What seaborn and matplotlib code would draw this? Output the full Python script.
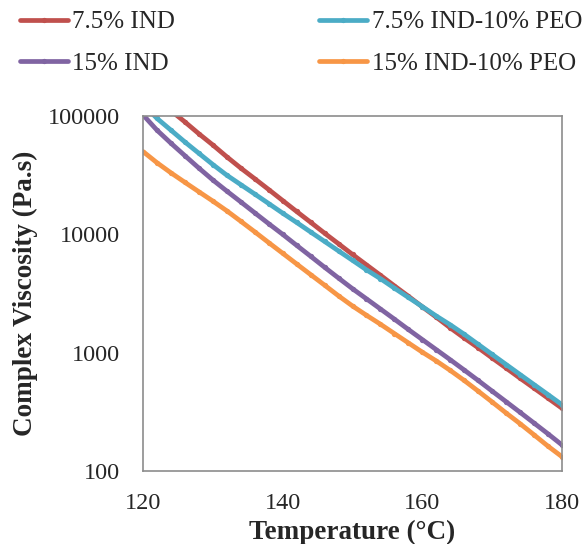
import numpy as np
import pandas as pd
import matplotlib
matplotlib.use("Agg")
import matplotlib.pyplot as plt
import matplotlib.ticker as mticker
import seaborn as sns

# Temperature sweep (°C)
temperature = [120, 122, 124, 126, 128, 130, 132, 134, 136, 138, 140,
               142, 144, 146, 148, 150, 152, 154, 156, 158, 160,
               162, 164, 166, 168, 170, 172, 174, 176, 178, 180]

# Complex viscosity (Pa.s) for each formulation
ind_7_5 = [174000, 138000, 111000, 89100, 70800, 56900, 45200, 36300, 29500, 23900, 19300,
           15600, 12650, 10230, 8320, 6760, 5520, 4510, 3670, 3000, 2440,
           1995, 1620, 1330, 1100, 902, 741, 608, 501, 412, 339]
ind_7_5_peo = [125900, 95500, 75900, 60300, 48400, 38900, 31600, 26300, 21900, 18200, 15100,
               12600, 10470, 8710, 7240, 6030, 5010, 4220, 3510, 2930, 2450,
               2040, 1720, 1430, 1175, 966, 794, 653, 537, 442, 363]
ind_15 = [102300, 75900, 58900, 46200, 36300, 28800, 23200, 18800, 15200, 12300, 10000,
          8070, 6530, 5270, 4270, 3470, 2850, 2340, 1920, 1570, 1290,
          1060, 871, 713, 582, 473, 385, 313, 254, 206, 166]
ind_15_peo = [50100, 40300, 33100, 27500, 22900, 19100, 15800, 12900, 10500, 8510, 6920,
              5620, 4570, 3720, 3020, 2480, 2070, 1740, 1450, 1210, 1010,
              851, 708, 582, 473, 383, 309, 251, 202, 162, 132]

series_names = ["7.5% IND", "7.5% IND-10% PEO", "15% IND", "15% IND-10% PEO"]
series_values = [ind_7_5, ind_7_5_peo, ind_15, ind_15_peo]
colors = ["#C0504D", "#4BACC6", "#8064A2", "#F79646"]

frames = []
for name, vals in zip(series_names, series_values):
    frames.append(pd.DataFrame({"Temperature": temperature,
                                "Viscosity": vals,
                                "Sample": name}))
df = pd.concat(frames, ignore_index=True)

sns.set_style("white")
plt.rcParams["font.family"] = ["Liberation Serif", "DejaVu Serif"]

fig = plt.figure(figsize=(5.85, 5.44), dpi=100)
ax = fig.add_axes([143 / 585, 1 - 471 / 544, (562 - 143) / 585, (471 - 116) / 544])

line_w = 3.4
sns.lineplot(data=df, x="Temperature", y="Viscosity", hue="Sample",
             hue_order=series_names, palette=colors, marker="o",
             markersize=3.8, markeredgewidth=0, linewidth=line_w,
             ax=ax, legend=False)

ax.set_yscale("log")
ax.set_xlim(120, 180)
ax.set_ylim(100, 100000)

ax.xaxis.set_major_locator(mticker.MultipleLocator(20))
ax.xaxis.set_minor_locator(mticker.MultipleLocator(4))
ax.yaxis.set_major_locator(mticker.LogLocator(base=10))
ax.yaxis.set_minor_locator(mticker.LogLocator(base=10, subs=np.arange(2, 10)))
ax.yaxis.set_major_formatter(mticker.FuncFormatter(lambda v, p: f"{int(round(v))}"))
ax.yaxis.set_minor_formatter(mticker.NullFormatter())

spine_color = "#8C8C8C"
for s in ax.spines.values():
    s.set_color(spine_color)
    s.set_linewidth(1.2)

ax.tick_params(which="both", direction="in", color=spine_color, width=1.0)
ax.tick_params(which="major", length=5.5, labelsize=17.5, pad=16)
ax.tick_params(which="minor", length=3.7)
ax.tick_params(axis="y", which="major", pad=16.5)

ax.set_xlabel("Temperature (\u00b0C)", fontsize=19.5, fontweight="bold", labelpad=4)
ax.set_ylabel("Complex Viscosity (Pa.s)", fontsize=19.5, fontweight="bold", labelpad=7)

# Legend laid out row by row in two columns
handles = [plt.Line2D([], [], color=c, linewidth=line_w, marker="o", markersize=3.8,
                      markeredgewidth=0) for c in colors]
order = [0, 2, 1, 3]
fig.legend([handles[i] for i in order], [series_names[i] for i in order],
           loc="upper left", bbox_to_anchor=(20 / 585, 1 - 11 / 544), ncol=2,
           frameon=False, fontsize=18, handlelength=1.9, handletextpad=0.2,
           columnspacing=5.76, labelspacing=0.75, borderpad=0, borderaxespad=0)

fig.savefig("out.png", dpi=100)
